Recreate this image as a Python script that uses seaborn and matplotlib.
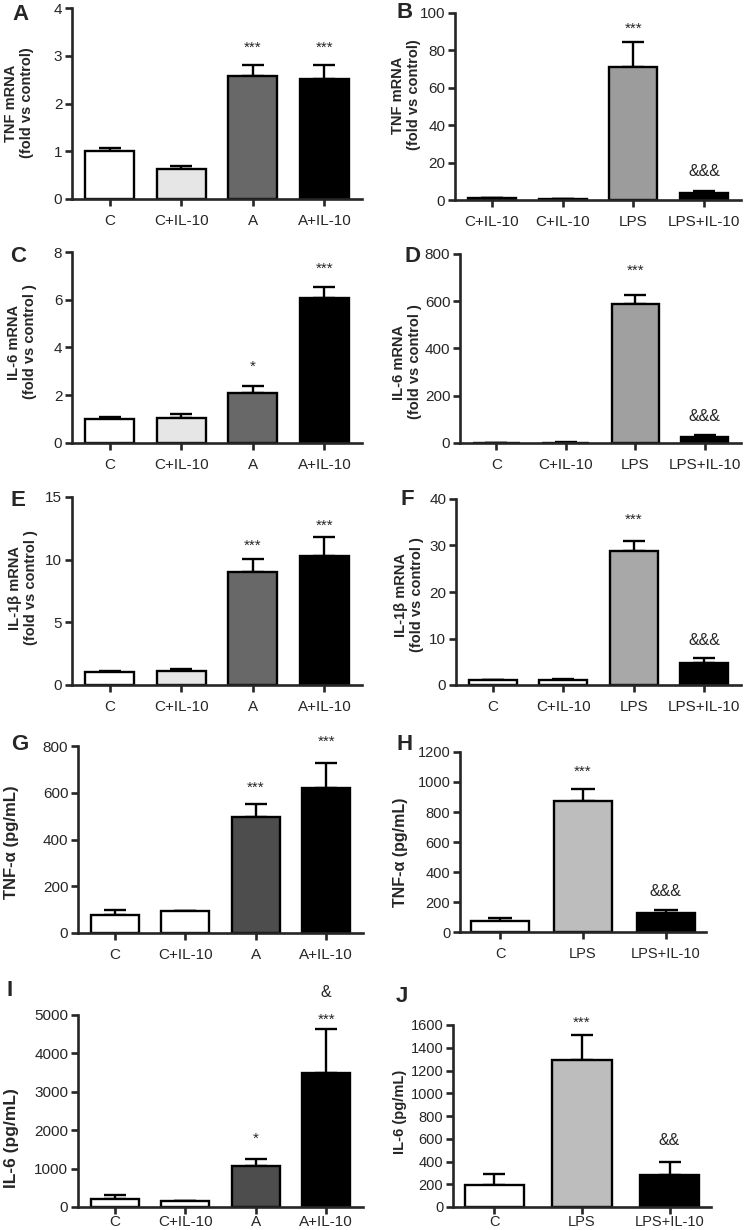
import numpy as np
import matplotlib
matplotlib.use("Agg")
import matplotlib.pyplot as plt
import seaborn as sns

# ---- data ----
lab_ctrl_a = ["C", "C+IL-10", "A", "A+IL-10"]
lab_ctrl_lps_b = ["C+IL-10", "C+IL-10", "LPS", "LPS+IL-10"]
lab_ctrl_lps = ["C", "C+IL-10", "LPS", "LPS+IL-10"]
lab_lps3 = ["C", "LPS", "LPS+IL-10"]

tnf_a_mean = [1.0, 0.62, 2.58, 2.52]
tnf_a_sem = [0.07, 0.08, 0.22, 0.29]
tnf_a_marks = [(2, 3.27, "***"), (3, 3.27, "***")]

tnf_b_mean = [1.0, 0.5, 71.0, 4.0]
tnf_b_sem = [0.2, 0.1, 13.5, 0.6]
tnf_b_marks = [(2, 94, "***"), (3, 16, "&&&")]

il6_c_mean = [1.0, 1.06, 2.11, 6.08]
il6_c_sem = [0.09, 0.14, 0.26, 0.45]
il6_c_marks = [(2, 3.4, "*"), (3, 7.5, "***")]

il6_d_mean = [1.0, 2.0, 589, 26]
il6_d_sem = [0.2, 0.3, 37, 6]
il6_d_marks = [(2, 748, "***"), (3, 117, "&&&")]

il1b_e_mean = [1.03, 1.14, 9.0, 10.27]
il1b_e_sem = [0.1, 0.15, 1.08, 1.52]
il1b_e_marks = [(2, 11.47, "***"), (3, 13.1, "***")]

il1b_f_mean = [1.0, 1.1, 28.9, 4.8]
il1b_f_sem = [0.1, 0.2, 2.0, 0.9]
il1b_f_marks = [(2, 36.6, "***"), (3, 9.9, "&&&")]

tnfp_g_mean = [78, 95, 495, 621]
tnfp_g_sem = [20, 0, 55, 108]
tnfp_g_marks = [(2, 640, "***"), (3, 837, "***")]

tnfp_h_mean = [74, 871, 130]
tnfp_h_sem = [20, 80, 20]
tnfp_h_marks = [(1, 1100, "***"), (2, 278, "&&&")]

il6p_i_mean = [200, 165, 1060, 3480]
il6p_i_sem = [100, 0, 200, 1150]
il6p_i_marks = [(2, 1913, "*"), (3, 5000, "***"), (3, 5609, "&")]

il6p_j_mean = [197, 1292, 280]
il6p_j_sem = [97, 220, 117]
il6p_j_marks = [(1, 1659, "***"), (2, 593, "&&")]

W, H = 746, 1230
sns.set_style("ticks")
plt.rcParams["font.family"] = ["Liberation Sans", "DejaVu Sans"]

fig = plt.figure(figsize=(W / 100, H / 100), dpi=100)


def px_axes(left, right, top, bottom):
    return fig.add_axes([left / W, 1 - bottom / H, (right - left) / W, (bottom - top) / H])


def fig_text(x, y, s, **kw):
    fig.text(x / W, 1 - y / H, s, **kw)


def draw(ax, labels, mean, sem, colors, ymax, ystep, width, marks, tick_fs, xpad):
    idx = list(range(len(labels)))
    sns.barplot(x=idx, y=mean, hue=idx, palette=colors, legend=False, width=width,
                edgecolor="black", linewidth=1.7, saturation=1, errorbar=None, ax=ax)
    ax.errorbar(idx, mean, yerr=[np.zeros(len(mean)), sem], fmt="none", ecolor="black",
                elinewidth=1.7, capsize=width * 12, capthick=1.7, zorder=0.5)
    ax.set_ylim(0, ymax)
    ax.set_yticks(np.arange(0, ymax + ystep / 2, ystep))
    ax.set_xticks(idx)
    ax.set_xticklabels(labels)
    ax.set_xlabel("")
    ax.set_ylabel("")
    sns.despine(ax=ax)
    for s in ["left", "bottom"]:
        ax.spines[s].set_linewidth(1.9)
    ax.tick_params(axis="both", direction="out", length=5, width=1.9, labelsize=tick_fs, pad=2)
    ax.tick_params(axis="x", pad=xpad)
    for i, y, txt in marks:
        fs = 11 if "*" in txt else 11.5
        off = -0.58 * fs if "*" in txt else -0.36 * fs
        ax.annotate(txt, xy=(i, y), xytext=(0, off), textcoords="offset points",
                    ha="center", va="baseline", fontsize=fs, annotation_clip=False)


panels = [
    # letter, letter pos, ylabel, ylabel pos, ylabel size, axes px, data
    ("A", (12, 15), "TNF mRNA\n(fold vs control)", (19, 103), 10.5, (72, 362, 8, 199),
     lab_ctrl_a, tnf_a_mean, tnf_a_sem, ["white", "#e6e6e6", "#686868", "black"], 4, 1, 0.68, tnf_a_marks, 11, 6),
    ("B", (397, 12), "TNF mRNA\n(fold vs control)", (406, 95), 10.5, (455, 741, 13, 200),
     lab_ctrl_lps_b, tnf_b_mean, tnf_b_sem, ["white", "white", "#9c9c9c", "black"], 100, 20, 0.68, tnf_b_marks, 11, 6),
    ("C", (10, 257), "IL-6 mRNA\n(fold vs control )", (22, 342), 10.5, (72, 362, 252, 443),
     lab_ctrl_a, il6_c_mean, il6_c_sem, ["white", "#e6e6e6", "#686868", "black"], 8, 2, 0.68, il6_c_marks, 11, 6),
    ("D", (405, 256), "IL-6 mRNA\n(fold vs control )", (407, 362), 10.5, (460, 741, 254, 443),
     lab_ctrl_lps, il6_d_mean, il6_d_sem, ["white", "white", "#a0a0a0", "black"], 800, 200, 0.68, il6_d_marks, 11, 6),
    ("E", (10, 501), "IL-1β mRNA\n(fold vs control )", (23, 588), 10.5, (72, 362, 497, 685),
     lab_ctrl_a, il1b_e_mean, il1b_e_sem, ["white", "#e6e6e6", "#686868", "black"], 15, 5, 0.68, il1b_e_marks, 11, 6),
    ("F", (400, 499), "IL-1β mRNA\n(fold vs control )", (409, 595), 10.5, (456, 741, 499, 685),
     lab_ctrl_lps, il1b_f_mean, il1b_f_sem, ["white", "white", "#a8a8a8", "black"], 40, 10, 0.68, il1b_f_marks, 11, 6),
    ("G", (11, 744), "TNF-α (pg/mL)", (12, 842), 12, (78, 363, 746, 933),
     lab_ctrl_a, tnfp_g_mean, tnfp_g_sem, ["white", "white", "#4d4d4d", "black"], 800, 200, 0.68, tnfp_g_marks, 11, 6),
    ("H", (397, 744), "TNF-α (pg/mL)", (400, 852), 11.5, (460, 706, 752, 932),
     lab_lps3, tnfp_h_mean, tnfp_h_sem, ["white", "#bdbdbd", "black"], 1200, 200, 0.7, tnfp_h_marks, 10.5, 6),
    ("I", (6, 990), "IL-6 (pg/mL)", (12, 1138), 12.5, (78, 363, 1015, 1207),
     lab_ctrl_a, il6p_i_mean, il6p_i_sem, ["white", "white", "#4d4d4d", "black"], 5000, 1000, 0.68, il6p_i_marks, 11, 1),
    ("J", (396, 997), "IL-6 (pg/mL)", (400, 1112), 10.5, (453, 711, 1025, 1207),
     lab_lps3, il6p_j_mean, il6p_j_sem, ["white", "#bdbdbd", "black"], 1600, 200, 0.68, il6p_j_marks, 10.5, 1),
]

for (letter, lpos, ylab, ypos, yfs, rect, labels, mean, sem, colors,
     ymax, ystep, width, marks, tfs, xpad) in panels:
    ax = px_axes(*rect)
    draw(ax, labels, mean, sem, colors, ymax, ystep, width, marks, tfs, xpad)
    fig_text(lpos[0], lpos[1], letter, fontsize=16, fontweight="bold", ha="left", va="center")
    fig_text(ypos[0], ypos[1], ylab, fontsize=yfs, fontweight="bold", rotation=90,
             ha="center", va="center", multialignment="center")

fig.savefig("out.png", dpi=100)
